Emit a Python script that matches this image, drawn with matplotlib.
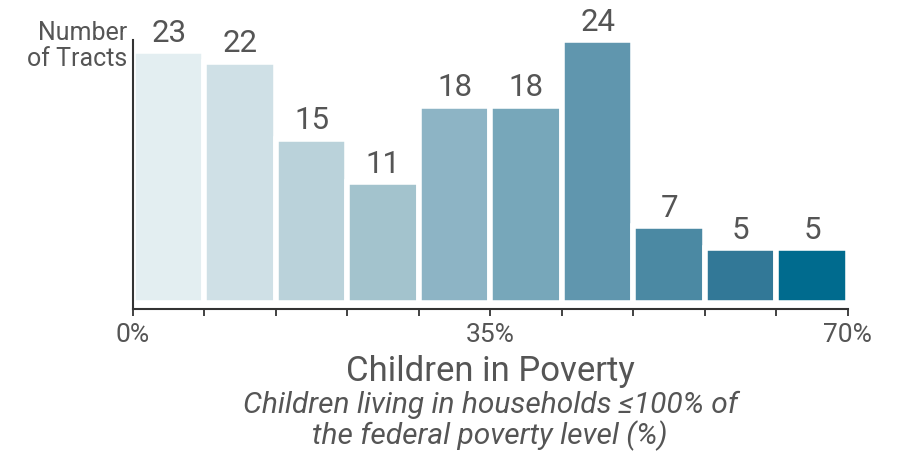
import numpy as np
import matplotlib
matplotlib.use("Agg")
import matplotlib.pyplot as plt

plt.rcParams['font.family'] = ['Roboto', 'DejaVu Sans']

# histogram bins (% children in poverty) and counts of tracts
bin_edges = [0, 7, 14, 21, 28, 35, 42, 49, 56, 63, 70]
counts = [23, 22, 15, 11, 18, 18, 24, 7, 5, 5]
bar_colors = ["#e3eef1", "#cfe0e6", "#bad2da", "#a3c3cd", "#8db4c5",
              "#77a7ba", "#6096ae", "#4b89a3", "#327897", "#006b8e"]
tick_labels = {0: "0%", 35: "35%", 70: "70%"}

grey = "#555555"

fig = plt.figure(figsize=(9.01, 4.53), dpi=100)
ax = fig.add_axes([0.1476, 0.318, 0.7935, 0.594])

lefts = np.array(bin_edges[:-1])
widths = np.diff(bin_edges)
ax.bar(lefts, counts, width=widths, align="edge", color=bar_colors,
       edgecolor="white", linewidth=4)

for x, w, c in zip(lefts, widths, counts):
    ax.text(x + w / 2, c + 0.85, str(c), ha="center", va="baseline",
            fontsize=22.5, color=grey)

ax.set_xlim(0, 70)
ax.set_ylim(-0.55, 24)

for s in ["top", "right"]:
    ax.spines[s].set_visible(False)
ax.spines["left"].set_color("#333333")
ax.spines["bottom"].set_color("#333333")
ax.spines["left"].set_linewidth(1.5)
ax.spines["bottom"].set_linewidth(1.5)

ax.set_yticks([])
ax.set_xticks(bin_edges)
ax.set_xticklabels([tick_labels.get(e, "") for e in bin_edges])
ax.tick_params(axis="x", length=5, width=1.3, color="#333333",
               labelsize=19, labelcolor=grey, pad=5)

ax.text(-0.008, 1.07, "Number\nof Tracts", transform=ax.transAxes,
        ha="right", va="top", fontsize=18, color=grey, linespacing=1.12)

fig.text(0.544, 0.18, "Children in Poverty", ha="center", va="center",
         fontsize=25, color=grey)
fig.text(0.544, 0.07, "Children living in households \u2264100% of\nthe federal poverty level (%)",
         ha="center", va="center", fontsize=21.5, color=grey, style="italic",
         linespacing=1.05)

fig.savefig("out.png", dpi=100)
